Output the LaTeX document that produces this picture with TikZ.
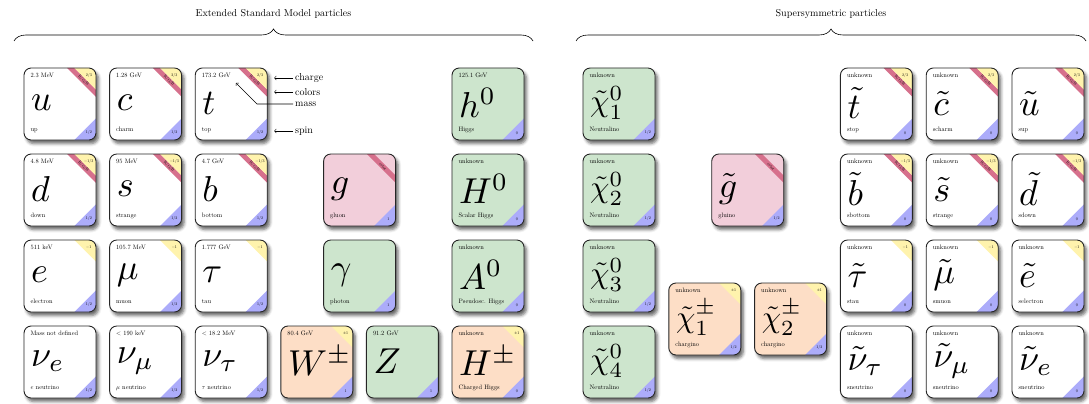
\documentclass[tikz,border=0pt]{standalone}
\usepackage{etoolbox}
\usetikzlibrary{calc,shadows.blur,decorations.pathreplacing}
\definecolor{cwhite}{RGB}{255,255,255}
\definecolor{cpink}{RGB}{242,206,218}
\definecolor{cgreen}{RGB}{205,229,205}
\definecolor{corange}{RGB}{253,222,198}
\definecolor{cyellow}{RGB}{255,243,173}
\definecolor{cblue}{RGB}{172,172,250}
\definecolor{cstripe}{RGB}{214,112,140}
\tikzset{
  cardbox/.style={rectangle, rounded corners=7.2pt, minimum width=72pt, minimum height=72pt,
    inner sep=0pt, outer sep=0pt, anchor=north west,
    blur shadow={shadow xshift=2.5pt, shadow yshift=-3.5pt, shadow blur radius=3pt, shadow opacity=60}},
  cardedge/.style={draw=black!85, line width=0.9pt, rounded corners=7.2pt},
  masstext/.style={anchor=north west, inner sep=0pt, font=\normalsize, scale=0.64},
  nametext/.style={anchor=base west, inner sep=0pt, font=\normalsize, scale=0.64},
  cornertext/.style={inner sep=0pt, font=\normalsize, scale=0.4},
  symtext/.style={anchor=west, inner sep=0pt, font=\normalsize, scale=3.6},
  annot/.style={anchor=west, inner sep=2pt, font=\normalsize},
  annotarrow/.style={->, line width=0.6pt},
  grouplabel/.style={font=\normalsize, inner sep=0pt},
  groupbrace/.style={decorate, decoration={brace, amplitude=12pt}, line width=0.6pt},
}
\newcommand\smallsym[1]{\scalebox{0.86}{#1}}
% #1 name, #2 position, #3 fill, #4 symbol, #5 mass, #6 charge, #7 spin, #8 label, #9 colour stripe
\newcommand\card[9]{%
  \node[cardbox, fill=#3] (#1) at #2 {};
  \begin{scope}
    \clip[rounded corners=7.2pt] (#1.north west) rectangle (#1.south east);
    \ifstrempty{#9}{}{\fill[cstripe] ([xshift=-28.8pt]#1.north east) -- ([xshift=-21.6pt]#1.north east)
       -- ([yshift=-21.6pt]#1.north east) -- ([yshift=-28.8pt]#1.north east) -- cycle;}
    \ifstrempty{#6}{}{\fill[cyellow] ([xshift=-21.6pt]#1.north east) -- (#1.north east)
       -- ([yshift=-21.6pt]#1.north east) -- cycle;}
    \ifstrempty{#7}{}{\fill[cblue] ([yshift=21.6pt]#1.south east) -- (#1.south east)
       -- ([xshift=-21.6pt]#1.south east) -- cycle;}
  \end{scope}
  \draw[cardedge] (#1.north west) rectangle (#1.south east);
  \ifstrempty{#9}{}{\node[cornertext, rotate=-45] (#1-colors) at ([shift={(-12.6pt,-12.6pt)}]#1.north east) {#9};}
  \ifstrempty{#6}{}{\node[cornertext] (#1-charge) at ([shift={(-7.2pt,-7.2pt)}]#1.north east) {#6};}
  \ifstrempty{#7}{}{\node[cornertext] (#1-spin) at ([shift={(-7.2pt,7.2pt)}]#1.south east) {#7};}
  \ifstrempty{#5}{}{\node[masstext] (#1-mass) at ([shift={(6.5pt,-5pt)}]#1.north west) {#5};}
  \ifstrempty{#8}{}{\node[nametext] (#1-name) at ([shift={(6.5pt,-63pt)}]#1.north west) {#8};}
  \node[symtext] (#1-sym) at ([shift={(6.5pt,1pt)}]#1.west) {#4};
}
\begin{document}
\begin{tikzpicture}[x=1pt,y=-1pt]
\useasboundingbox (0,0) rectangle (1089,404);
% ---------------- Extended Standard Model ----------------
\card{u}{(24,68)}{cwhite}{$u$}{2.3 MeV}{2/3}{1/2}{up}{R/G/B}
\card{c}{(109.6,68)}{cwhite}{$c$}{1.28 GeV}{2/3}{1/2}{charm}{R/G/B}
\card{t}{(195.2,68)}{cwhite}{$t$}{173.2 GeV}{2/3}{1/2}{top}{R/G/B}
\card{d}{(24,154)}{cwhite}{$d$}{4.8 MeV}{$-1/3$}{1/2}{down}{R/G/B}
\card{s}{(109.6,154)}{cwhite}{$s$}{95 MeV}{$-1/3$}{1/2}{strange}{R/G/B}
\card{b}{(195.2,154)}{cwhite}{$b$}{4.7 GeV}{$-1/3$}{1/2}{bottom}{R/G/B}
\card{e}{(24,240)}{cwhite}{$e$}{511 keV}{$-1$}{1/2}{electron}{}
\card{mu}{(109.6,240)}{cwhite}{$\mu$}{105.7 MeV}{$-1$}{1/2}{muon}{}
\card{tau}{(195.2,240)}{cwhite}{$\tau$}{1.777 GeV}{$-1$}{1/2}{tau}{}
\card{nue}{(24,326)}{cwhite}{$\nu_e$}{Mass not defined}{}{1/2}{$e$ neutrino}{}
\card{numu}{(109.6,326)}{cwhite}{$\nu_\mu$}{$<$ 190 keV}{}{1/2}{$\mu$ neutrino}{}
\card{nutau}{(195.2,326)}{cwhite}{$\nu_\tau$}{$<$ 18.2 MeV}{}{1/2}{$\tau$ neutrino}{}
\card{g}{(323.6,154)}{cpink}{$g$}{}{}{1}{gluon}{color}
\card{gamma}{(323.6,240)}{cgreen}{$\gamma$}{}{}{1}{photon}{}
\card{W}{(280.8,326)}{corange}{$W^{\pm}$}{80.4 GeV}{$\pm1$}{1}{}{}
\card{Z}{(366.4,326)}{cgreen}{$Z$}{91.2 GeV}{}{1}{}{}
\card{h0}{(452,68)}{cgreen}{$h^0$}{125.1 GeV}{}{0}{Higgs}{}
\card{H0}{(452,154)}{cgreen}{$H^0$}{unknown}{}{0}{Scalar Higgs}{}
\card{A0}{(452,240)}{cgreen}{$A^0$}{unknown}{}{0}{Pseudosc. Higgs}{}
\card{Hpm}{(452,326)}{corange}{$H^{\pm}$}{unknown}{$\pm1$}{0}{Charged Higgs}{}
% ---------------- Supersymmetric ----------------
\card{N1}{(583,68)}{cgreen}{\smallsym{$\tilde{\chi}^0_1$}}{unknown}{}{1/2}{Neutralino}{}
\card{N2}{(583,154)}{cgreen}{\smallsym{$\tilde{\chi}^0_2$}}{unknown}{}{1/2}{Neutralino}{}
\card{N3}{(583,240)}{cgreen}{\smallsym{$\tilde{\chi}^0_3$}}{unknown}{}{1/2}{Neutralino}{}
\card{N4}{(583,326)}{cgreen}{\smallsym{$\tilde{\chi}^0_4$}}{unknown}{}{1/2}{Neutralino}{}
\card{gluino}{(711.7,154)}{cpink}{$\tilde{g}$}{}{}{1/2}{gluino}{color}
\card{C1}{(668.8,283)}{corange}{\smallsym{$\tilde{\chi}^{\pm}_1$}}{unknown}{$\pm1$}{1/2}{chargino}{}
\card{C2}{(754.6,283)}{corange}{\smallsym{$\tilde{\chi}^{\pm}_2$}}{unknown}{$\pm1$}{1/2}{chargino}{}
\card{st}{(840.4,68)}{cwhite}{$\tilde{t}$}{unknown}{2/3}{0}{stop}{R/G/B}
\card{sc}{(926.2,68)}{cwhite}{$\tilde{c}$}{unknown}{2/3}{0}{scharm}{R/G/B}
\card{su}{(1012,68)}{cwhite}{$\tilde{u}$}{}{2/3}{0}{sup}{R/G/B}
\card{sb}{(840.4,154)}{cwhite}{$\tilde{b}$}{unknown}{$-1/3$}{0}{sbottom}{R/G/B}
\card{ss}{(926.2,154)}{cwhite}{$\tilde{s}$}{unknown}{$-1/3$}{0}{strange}{R/G/B}
\card{sd}{(1012,154)}{cwhite}{$\tilde{d}$}{}{$-1/3$}{0}{sdown}{R/G/B}
\card{stau}{(840.4,240)}{cwhite}{$\tilde{\tau}$}{unknown}{$-1$}{0}{stau}{}
\card{smu}{(926.2,240)}{cwhite}{$\tilde{\mu}$}{unknown}{$-1$}{0}{smuon}{}
\card{se}{(1012,240)}{cwhite}{$\tilde{e}$}{unknown}{$-1$}{0}{selectron}{}
\card{snutau}{(840.4,326)}{cwhite}{$\tilde{\nu}_\tau$}{unknown}{}{0}{sneutrino}{}
\card{snumu}{(926.2,326)}{cwhite}{$\tilde{\nu}_\mu$}{unknown}{}{0}{sneutrino}{}
\card{snue}{(1012,326)}{cwhite}{$\tilde{\nu}_e$}{unknown}{}{0}{sneutrino}{}
% ---------------- annotations ----------------
\node[annot] (chargelab) at (293,78) {charge};
\node[annot] (colorslab) at (293,92) {colors};
\node[annot] (masslab) at (293,104) {mass};
\node[annot] (spinlab) at (293,131) {spin};
\draw[annotarrow] (chargelab.west) -- ($(t.east |- chargelab.west)+(7pt,0)$);
\draw[annotarrow] (colorslab.west) -- ($(t.east |- colorslab.west)+(7pt,0)$);
\draw[annotarrow] (spinlab.west) -- ($(t.east |- spinlab.west)+(7pt,0)$);
\coordinate (massbend) at (257,104);
\coordinate (masstip) at (236,83);
\draw[annotarrow] (masslab.west) -- (massbend) -- (masstip);
% ---------------- braces ----------------
\coordinate (smL) at (14,41);
\coordinate (smR) at (533,41);
\coordinate (susyL) at (576,41);
\coordinate (susyR) at (1086,41);
\draw[groupbrace] (smL) -- (smR);
\draw[groupbrace] (susyL) -- (susyR);
\node[grouplabel] (smtitle) at (273.5,14) {Extended Standard Model particles};
\node[grouplabel] (susytitle) at (831,14) {Supersymmetric particles};
\end{tikzpicture}
\end{document}
